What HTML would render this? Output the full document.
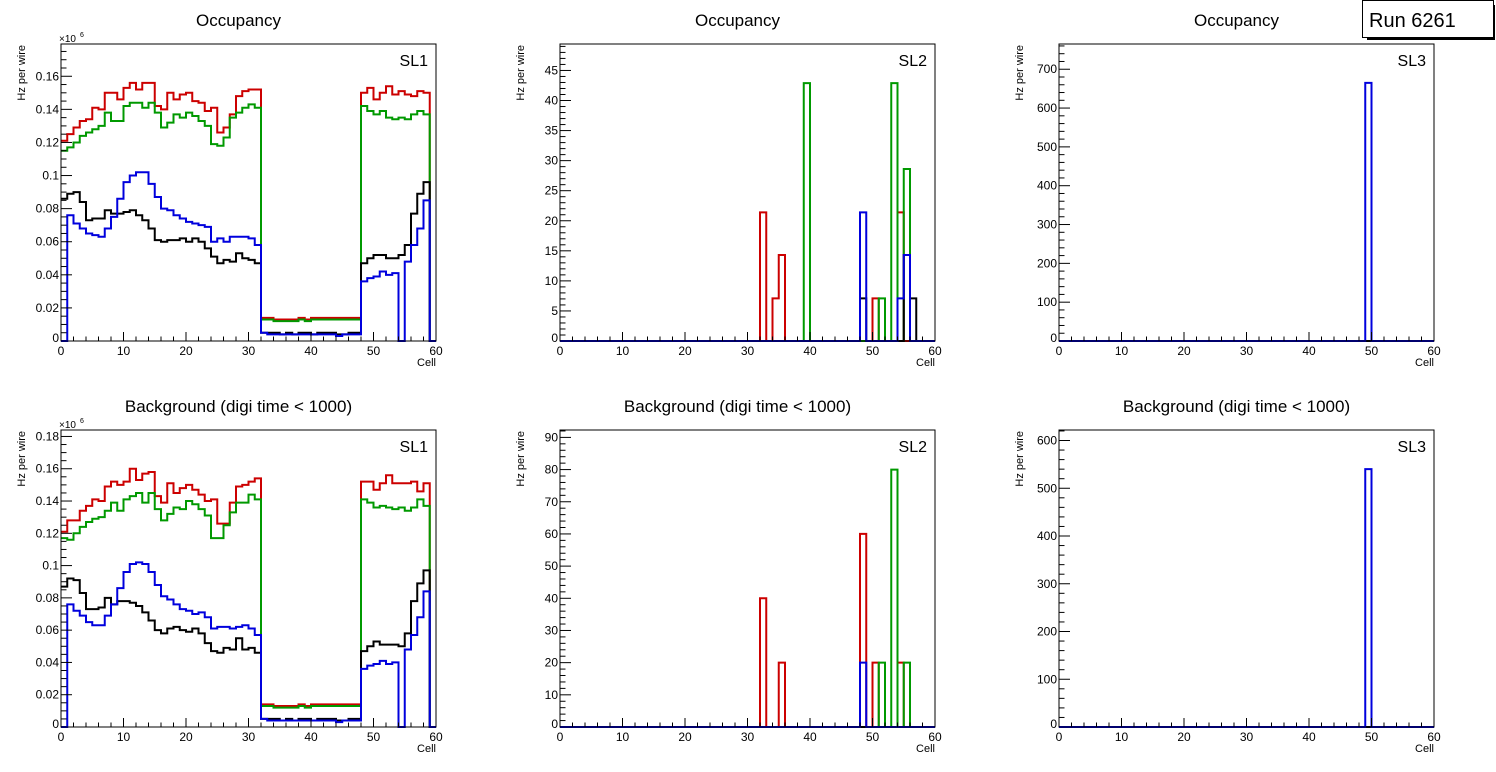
<!DOCTYPE html>
<html><head><meta charset="utf-8"><style>
body{margin:0;background:#fff;}
svg{display:block;font-family:"Liberation Sans",sans-serif;}
</style></head><body>
<svg id="c" width="1496" height="772" xmlns="http://www.w3.org/2000/svg"></svg>
<script>
// ---- data (60 cells each) ----
const cells = Array.from({length:60},(_, i)=>i);
const z16 = [0.014,0.014,0.013,0.013,0.013,0.013,0.014,0.013,0.014,0.014,0.014,0.014,0.014,0.014,0.014,0.014];
const g16 = [0.013,0.013,0.012,0.012,0.012,0.012,0.013,0.012,0.013,0.013,0.013,0.013,0.013,0.013,0.013,0.013];
const k16 = [0.005,0.005,0.005,0.004,0.005,0.004,0.005,0.005,0.004,0.005,0.005,0.005,0.004,0.004,0.005,0.005];
const b16 = [0.005,0.004,0.004,0.004,0.004,0.004,0.004,0.004,0.004,0.004,0.004,0.004,0.003,0.004,0.004,0.004];

const occSL1Red = [0.121,0.125,0.129,0.133,0.134,0.141,0.140,0.150,0.150,0.146,0.153,0.156,0.152,0.156,0.156,0.142,0.140,0.150,0.146,0.149,0.150,0.145,0.144,0.139,0.141,0.126,0.129,0.137,0.148,0.151,0.152,0.152].concat(z16,[0.150,0.153,0.146,0.150,0.154,0.149,0.151,0.149,0.148,0.151,0.150,0]);
const occSL1Green = [0.115,0.117,0.120,0.124,0.126,0.128,0.130,0.138,0.133,0.133,0.142,0.144,0.144,0.141,0.144,0.138,0.129,0.132,0.137,0.135,0.138,0.136,0.133,0.130,0.119,0.118,0.123,0.135,0.138,0.141,0.143,0.141].concat(g16,[0.142,0.139,0.137,0.139,0.135,0.134,0.135,0.134,0.137,0.139,0.137,0]);
const occSL1Black = [0.086,0.089,0.090,0.084,0.073,0.074,0.074,0.079,0.077,0.077,0.078,0.079,0.076,0.073,0.068,0.061,0.060,0.061,0.061,0.062,0.060,0.062,0.060,0.056,0.051,0.047,0.049,0.048,0.053,0.050,0.049,0.047].concat(k16,[0.047,0.050,0.052,0.052,0.050,0.050,0.052,0.058,0.077,0.089,0.096,0]);
const occSL1Blue = [0,0.076,0.071,0.068,0.065,0.064,0.063,0.068,0.075,0.086,0.096,0.100,0.102,0.102,0.095,0.087,0.080,0.079,0.076,0.074,0.072,0.071,0.070,0.069,0.060,0.062,0.060,0.063,0.063,0.063,0.062,0.058].concat(b16,[0.036,0.038,0.039,0.042,0.040,0.041,0,0.048,0.058,0.068,0.085,0]);

const bkgSL1Red = [0.121,0.128,0.128,0.134,0.137,0.141,0.140,0.149,0.152,0.150,0.152,0.160,0.153,0.157,0.158,0.143,0.139,0.151,0.145,0.148,0.150,0.147,0.144,0.140,0.141,0.126,0.126,0.139,0.149,0.150,0.152,0.154].concat(z16,[0.152,0.152,0.147,0.151,0.156,0.151,0.151,0.151,0.152,0.146,0.151,0]);
const bkgSL1Green = [0.117,0.116,0.120,0.124,0.127,0.129,0.130,0.134,0.139,0.134,0.141,0.143,0.145,0.139,0.145,0.135,0.128,0.132,0.136,0.135,0.140,0.138,0.135,0.131,0.117,0.117,0.125,0.133,0.139,0.139,0.144,0.141].concat(g16,[0.141,0.139,0.136,0.137,0.136,0.135,0.136,0.134,0.136,0.141,0.137,0]);
const bkgSL1Black = [0.087,0.092,0.091,0.083,0.073,0.073,0.074,0.080,0.076,0.078,0.078,0.077,0.075,0.071,0.066,0.060,0.058,0.061,0.062,0.060,0.059,0.061,0.058,0.052,0.047,0.046,0.049,0.048,0.055,0.048,0.049,0.046].concat(k16,[0.047,0.050,0.053,0.051,0.051,0.051,0.050,0.058,0.078,0.089,0.097,0]);
const bkgSL1Blue = [0,0.076,0.072,0.069,0.065,0.063,0.063,0.069,0.076,0.086,0.096,0.101,0.102,0.101,0.096,0.088,0.081,0.079,0.076,0.073,0.072,0.070,0.071,0.068,0.061,0.062,0.062,0.061,0.062,0.063,0.061,0.057].concat(b16,[0.036,0.038,0.039,0.041,0.039,0.040,0,0.048,0.057,0.068,0.084,0]);

function sparse(pairs){const a=new Array(60).fill(0);pairs.forEach(p=>a[p[0]]=p[1]);return a;}
const occSL2Red = sparse([[32,21.4],[34,7.1],[35,14.3],[50,7.1],[54,21.4]]);
const occSL2Green = sparse([[39,42.9],[51,7.1],[53,42.9],[55,28.6]]);
const occSL2Black = sparse([[48,7.1],[55,14.3],[56,7.1]]);
const occSL2Blue = sparse([[48,21.4],[54,7.1],[55,14.3]]);
const bkgSL2Red = sparse([[32,40],[35,20],[48,60],[50,20],[54,20]]);
const bkgSL2Green = sparse([[51,20],[53,80],[55,20]]);
const bkgSL2Black = sparse([]);
const bkgSL2Blue = sparse([[48,20]]);
const occSL3Blue = sparse([[49,665]]);
const bkgSL3Blue = sparse([[49,540]]);
const zeros = sparse([]);

const xTicks = [0,10,20,30,40,50,60];

const svg=document.getElementById('c');
const NS='http://www.w3.org/2000/svg';
function mk(tag,attrs,parent,text){const e=document.createElementNS(NS,tag);for(const k in attrs)e.setAttribute(k,attrs[k]);if(text!==undefined)e.textContent=text;(parent||svg).appendChild(e);return e;}
function fmt(v,dec){return dec?(+v.toFixed(dec)).toString():String(v);}

function panel(p){
  const g=mk('g',{});
  
  
  const x0=p.x,x1=p.x+375,y0=p.y,y1=p.y+297;
  const sx=v=>x0+(v/60)*375;
  const sy=v=>y1-(v/p.ymax)*297;
  const t=mk('text',{x:(x0+x1)/2-10,y:p.y-18,'font-size':17,'text-anchor':'middle'},g,p.title);
  
  
  const cols=['#cc0000','#009900','#000000','#0000dd'];
  p.series.forEach((s,si)=>{
    let d='M'+sx(0)+','+sy(s[0]);
    for(let i=0;i<60;i++){d+=' L'+sx(i)+','+sy(s[i])+' L'+sx(i+1)+','+sy(s[i]);}
    const path=mk('path',{d:d,fill:'none',stroke:cols[si],'stroke-width':2},g);
    
    
  });
  const fr=mk('rect',{x:x0,y:y0,width:375,height:297,fill:'none',stroke:'#000','stroke-width':1},g);
  
  
  for(let v=0;v<=60;v+=2){
    const major=v%10===0;
    mk('line',{x1:sx(v),x2:sx(v),y1:y1,y2:y1-(major?9:4.5),stroke:'#000','stroke-width':1},g);
  }
  xTicks.forEach(v=>{
    const l=mk('text',{x:sx(v),y:y1+14,'font-size':12,'text-anchor':'middle'},g,String(v));
    
    
  });
  const xt=mk('text',{x:x1,y:y1+25,'font-size':11,'text-anchor':'end'},g,'Cell');
  
  
  const minor=p.major/p.nminor;
  for(let k=0;k*minor<=p.ymax+1e-9;k++){
    const v=k*minor;const isMaj=k%p.nminor===0;
    mk('line',{x1:x0,x2:x0+(isMaj?11:5.5),y1:sy(v),y2:sy(v),stroke:'#000','stroke-width':1},g);
  }
  for(let k=0;k*p.major<=p.ymax+1e-9;k++){
    const v=k*p.major;
    const l=mk('text',{x:x0-2,y:sy(v)+4-(v===0?3:0),'font-size':12,'text-anchor':'end'},g,v===0?'0':fmt(v,p.dec));
    
    
  }
  const yt=mk('text',{x:0,y:0,'font-size':11,'text-anchor':'end',transform:'translate('+(x0-36)+','+(y0+1)+') rotate(-90)'},g,'Hz per wire');
  
  
  if(p.exp){
    const e=mk('text',{x:x0-2,y:y0-2,'font-size':10},g,'×10');
    
    
    mk('text',{x:x0+19,y:y0-7,'font-size':7},g,'6');
  }
  const sl=mk('text',{x:x1-8,y:y0+22,'font-size':16,'text-anchor':'end'},g,p.sl);
  
  
}

panel({name:'occupancy-sl1',x:61,y:44,ymax:0.1795,major:0.02,nminor:4,dec:2,exp:true,title:'Occupancy',sl:'SL1',series:[occSL1Red,occSL1Green,occSL1Black,occSL1Blue]});
panel({name:'occupancy-sl2',x:560,y:44,ymax:49.4,major:5,nminor:5,dec:0,title:'Occupancy',sl:'SL2',series:[occSL2Red,occSL2Green,occSL2Black,occSL2Blue]});
panel({name:'occupancy-sl3',x:1059,y:44,ymax:765,major:100,nminor:5,dec:0,title:'Occupancy',sl:'SL3',series:[zeros,zeros,zeros,occSL3Blue]});
panel({name:'background-sl1',x:61,y:430,ymax:0.184,major:0.02,nminor:4,dec:2,exp:true,title:'Background (digi time < 1000)',sl:'SL1',series:[bkgSL1Red,bkgSL1Green,bkgSL1Black,bkgSL1Blue]});
panel({name:'background-sl2',x:560,y:430,ymax:92.3,major:10,nminor:5,dec:0,title:'Background (digi time < 1000)',sl:'SL2',series:[bkgSL2Red,bkgSL2Green,bkgSL2Black,bkgSL2Blue]});
panel({name:'background-sl3',x:1059,y:430,ymax:622,major:100,nminor:5,dec:0,title:'Background (digi time < 1000)',sl:'SL3',series:[zeros,zeros,zeros,bkgSL3Blue]});

const rb=mk('g',{});


mk('rect',{x:1367,y:5,width:128,height:35,fill:'#000'},rb);
mk('rect',{x:1362.5,y:0.5,width:131,height:37,fill:'#fff',stroke:'#000','stroke-width':1},rb);
mk('text',{x:1369,y:27,'font-size':20},rb,'Run 6261');
</script>
</body></html>
